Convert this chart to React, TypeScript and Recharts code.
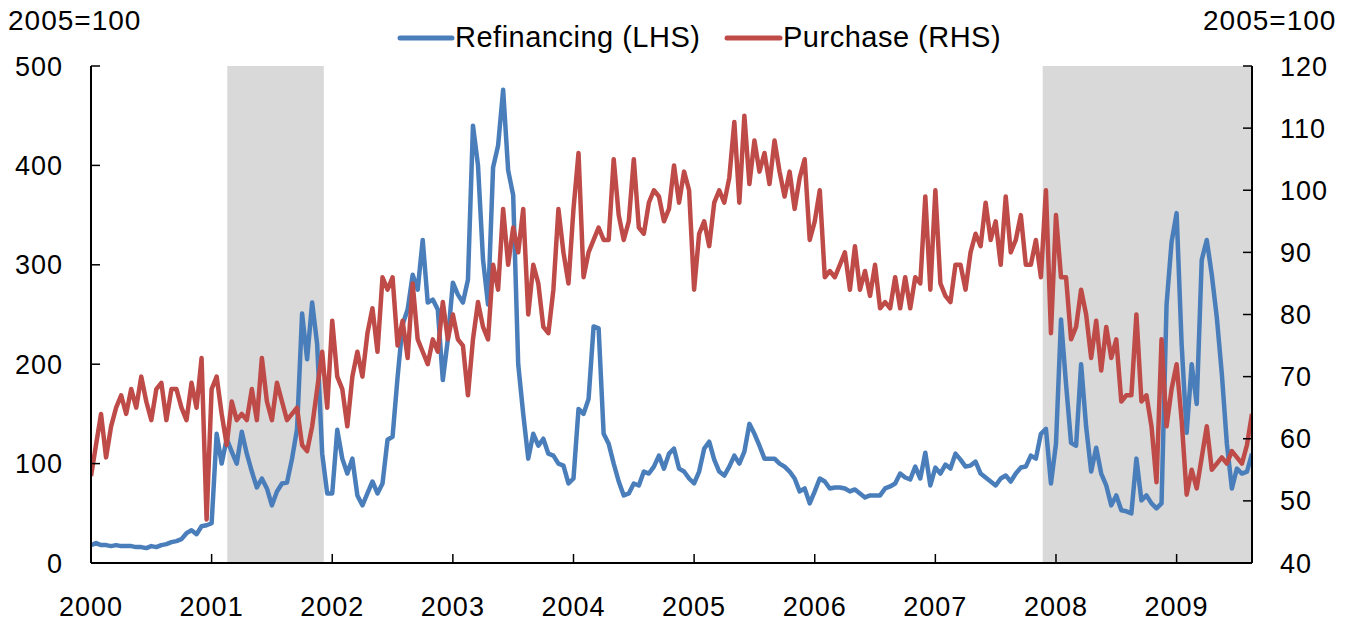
import React from 'react';
import { LineChart, Line, XAxis, YAxis, ReferenceArea } from 'recharts';

// Semi-monthly observations, starting January 2000 (index i -> 2000 + i/24)
const refinancing: number[] = [
  18, 20, 18, 18, 17, 18, 17, 17, 17, 16, 16, 15, 17, 16, 18, 19, 21, 22, 24, 30, 33, 29, 37, 38,
  40, 130, 100, 125, 112, 100, 132, 110, 92, 76, 85, 75, 58, 72, 80, 81,
  105, 135, 251, 205, 262, 220, 110, 70, 70, 134, 105, 90, 105, 68, 58, 70, 82, 70, 80, 124,
  127, 187, 240, 255, 290, 275, 325, 262, 265, 255, 184, 225, 282, 270, 262, 285, 440, 400,
  305, 260, 398, 420, 476, 395, 370, 200, 150, 105, 130, 118, 125, 110, 108, 100, 98, 80,
  85, 155, 150, 165, 238, 236, 130, 120, 100, 82, 68, 70, 80, 78, 92, 90, 97, 108, 95, 110, 115,
  95, 92, 85, 80, 92, 115, 122, 104, 92, 88, 97, 108, 100, 112, 140, 130, 118, 105, 105, 105,
  100, 97, 92, 85, 72, 75, 60, 72, 85, 82, 75, 76, 76, 75, 72, 74, 70, 66, 68,
  68, 68, 75, 77, 80, 90, 86, 84, 97, 85, 111, 78, 96, 90, 99, 95, 110, 104, 97, 98,
  102, 90, 86, 82, 78, 85, 88, 82, 90, 96, 97, 108, 105, 130, 135, 80, 120, 245,
  180, 121, 118, 200, 137, 92, 116, 90, 78, 58, 68, 53, 52, 50, 105, 63, 68, 60, 55, 60,
  260, 323, 352, 220, 131, 200, 160, 305, 325, 290, 247, 190, 120, 75, 95, 90, 92, 110,
];

const purchase: number[] = [
  54, 59, 64, 57, 62, 65, 67, 64, 68, 65, 70, 66, 63, 68, 69, 63, 68, 68, 65, 63, 69, 65, 73, 47,
  68, 70, 64, 59, 66, 63, 64, 63, 68, 63, 73, 66, 63, 69, 66, 63,
  64, 65, 59, 58, 62, 68, 74, 65, 79, 70, 68, 62, 70, 74, 70, 77, 81, 74, 86, 84,
  86, 75, 79, 73, 85, 76, 74, 72, 76, 74, 82, 76, 80, 76, 75, 67, 76, 82,
  78, 76, 88, 84, 97, 88, 94, 90, 97, 80, 88, 85, 78, 77, 84, 97, 90, 85,
  97, 106, 86, 90, 92, 94, 92, 92, 105, 96, 92, 95, 105, 94, 93, 98, 100, 99, 95, 97, 104,
  98, 103, 100, 84, 93, 95, 91, 98, 100, 98, 102, 111, 98, 112, 101, 108, 103, 106, 101, 108,
  103, 99, 103, 97, 102, 105, 92, 95, 100, 86, 87, 86, 88, 90, 84, 91, 84, 87, 83,
  88, 81, 82, 81, 86, 81, 86, 81, 86, 85, 99, 84, 100, 85, 83, 82, 88, 88, 84, 90,
  93, 91, 98, 92, 95, 88, 99, 90, 92, 96, 88, 88, 92, 86, 100, 77, 96, 86,
  86, 76, 78, 84, 80, 73, 79, 71, 78, 73, 76, 66, 67, 67, 80, 66, 67, 62, 53, 76,
  62, 68, 72, 63, 51, 55, 52, 57, 62, 55, 56, 57, 56, 58, 57, 56, 59, 64,
];

const yearTicks = [2000, 2001, 2002, 2003, 2004, 2005, 2006, 2007, 2008, 2009];
const leftTicks = [0, 100, 200, 300, 400, 500];
const rightTicks = [40, 50, 60, 70, 80, 90, 100, 110, 120];
const recessionStarts = [2001.13, 2007.89];
const recessionEnds = [2001.93, 2009.625];

const seriesNames = ['Refinancing (LHS)', 'Purchase (RHS)'];
const unitLabel = '2005=100';

const data = refinancing.map((r, i) => ({
  t: 2000 + i / 24,
  refinancing: r,
  purchase: purchase[i],
}));

const BLUE = '#4A7EBB';
const RED = '#BE4B48';
const SHADE = '#D9D9D9';
const FONT = "'Liberation Sans', Arial, Helvetica, sans-serif";

const tickStyle = { fontSize: 27, fill: '#000', fontFamily: FONT, letterSpacing: 1 };

export default function App() {
  const xMax = 2000 + (refinancing.length - 1) / 24;
  return (
    <div style={{ position: 'absolute', left: 0, top: 0, width: 1351, height: 625, background: '#fff' }}>
      <LineChart
        width={1351}
        height={625}
        data={data}
        margin={{ top: 66, right: 0, bottom: 0, left: 0 }}
      >
        {recessionStarts.map((s, k) => (
          <ReferenceArea
            key={k}
            x1={s}
            x2={recessionEnds[k]}
            y1={0}
            y2={500}
            yAxisId="left"
            fill={SHADE}
            fillOpacity={1}
            stroke="none"
          />
        ))}
        <XAxis
          dataKey="t"
          type="number"
          domain={[2000, xMax]}
          ticks={yearTicks}
          interval={0}
          allowDataOverflow
          height={62}
          tickSize={-9}
          tickMargin={43}
          tick={tickStyle}
          tickFormatter={(v: number) => String(Math.round(v))}
          axisLine={{ stroke: '#000', strokeWidth: 2 }}
          tickLine={{ stroke: '#000', strokeWidth: 1.5 }}
        />
        <YAxis
          yAxisId="left"
          orientation="left"
          domain={[0, 500]}
          ticks={leftTicks}
          interval={0}
          width={91}
          tickSize={-9}
          tickMargin={37}
          tick={tickStyle}
          axisLine={{ stroke: '#000', strokeWidth: 2 }}
          tickLine={{ stroke: '#000', strokeWidth: 1.5 }}
        />
        <YAxis
          yAxisId="right"
          orientation="right"
          domain={[40, 120]}
          ticks={rightTicks}
          interval={0}
          width={99}
          tickSize={-9}
          tickMargin={37}
          tick={tickStyle}
          axisLine={{ stroke: '#000', strokeWidth: 2 }}
          tickLine={{ stroke: '#000', strokeWidth: 1.5 }}
        />
        <Line
          yAxisId="left"
          type="linear"
          dataKey="refinancing"
          name={seriesNames[0]}
          stroke={BLUE}
          strokeWidth={4.5}
          strokeLinejoin="round"
          dot={false}
          isAnimationActive={false}
        />
        <Line
          yAxisId="right"
          type="linear"
          dataKey="purchase"
          name={seriesNames[1]}
          stroke={RED}
          strokeWidth={4.5}
          strokeLinejoin="round"
          dot={false}
          isAnimationActive={false}
        />
      </LineChart>
      <svg
        width={1351}
        height={625}
        style={{ position: 'absolute', left: 0, top: 0, pointerEvents: 'none' }}
      >
        <text x={8} y={30} fontSize={28} fontFamily={FONT} letterSpacing={1} fill="#000">{unitLabel}</text>
        <text x={1203} y={30} fontSize={28} fontFamily={FONT} letterSpacing={1} fill="#000">{unitLabel}</text>
        <line x1={400} x2={452} y1={38} y2={38} stroke={BLUE} strokeWidth={5} strokeLinecap="round" />
        <text x={455} y={47} fontSize={29} fontFamily={FONT} letterSpacing={0.5} fill="#000">{seriesNames[0]}</text>
        <line x1={727} x2={780} y1={38} y2={38} stroke={RED} strokeWidth={5} strokeLinecap="round" />
        <text x={783} y={47} fontSize={29} fontFamily={FONT} letterSpacing={0.5} fill="#000">{seriesNames[1]}</text>
      </svg>
    </div>
  );
}
